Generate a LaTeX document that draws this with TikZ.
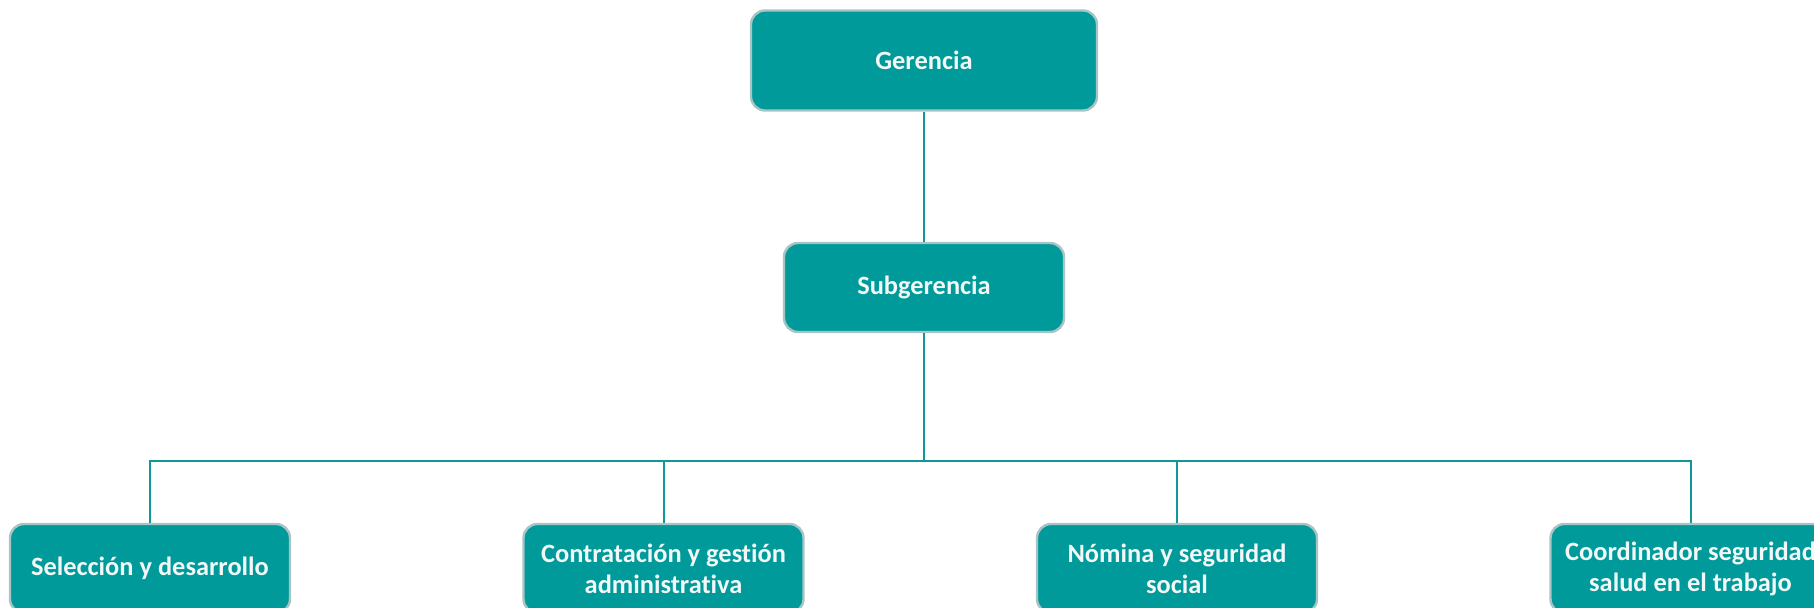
\documentclass[tikz,border=0pt]{standalone}
\usepackage{fontspec}
\setmainfont{Carlito}[Ligatures=NoCommon]
\usepackage{xcolor}
\definecolor{verde}{HTML}{009A9A}
\definecolor{borde}{HTML}{A8C4C4}
\definecolor{linea}{HTML}{109898}
\definecolor{letra}{HTML}{F2F7F7}
\tikzstyle{cargo}=[
        draw = borde,
        line width = 1.2pt,
        fill = verde,
        text = letra,
        rounded corners = 7pt,
        minimum width = 140pt,
        minimum height = 44.5pt,
        inner sep = 0pt,
        align = center,
        font = \bfseries\fontsize{13.2}{15.5}\selectfont
    ]

\begin{document}
\begin{tikzpicture}[node distance={256.75pt}, line width=1pt, rama/.style = {draw=linea}]
        \useasboundingbox (0,0) rectangle (907pt,-304pt);
        \node[cargo, minimum width=173pt, minimum height=50pt] (ger) at (462pt,-30.25pt) {Gerencia};
        \node[cargo] (sub) [below of = ger, node distance=113.5pt] {Subgerencia};
        \node[cargo] (sel) at (75pt,-284.25pt) {Selección y desarrollo};
        \node[cargo] (con) [right of = sel] {Contratación y gestión\\administrativa};
        \node[cargo] (nom) [right of = con] {Nómina y seguridad\\social};
        \node[cargo] (coo) [right of = nom] {Coordinador seguridad\\salud en el trabajo};
        \coordinate (bar) at (462pt,-230.75pt);

        \draw[rama] (ger) -- (sub);
        \draw[rama] (sub) -- (bar);
        \draw[rama] (bar) -| (sel);
        \draw[rama] (bar) -| (con);
        \draw[rama] (bar) -| (nom);
        \draw[rama] (bar) -| (coo);
    \end{tikzpicture}
\end{document}
